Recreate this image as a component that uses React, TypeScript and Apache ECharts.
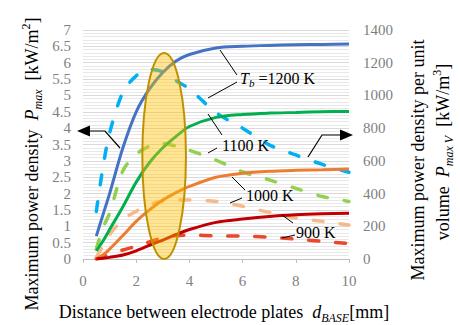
import React, { useEffect, useRef } from "react";
import * as echarts from "echarts";

// Distance between electrode plates d_BASE [mm]
const xs = [0.5, 0.75, 1, 1.5, 2, 2.5, 3, 3.5, 4, 5, 6, 7, 8, 9, 10];

// Maximum power density P_max [kW/m^2] (left axis)
const pmax1200 = [0.7, 1.35, 2.0, 3.4, 4.5, 5.2, 5.7, 6.05, 6.25, 6.45, 6.5, 6.53, 6.55, 6.56, 6.57];
const pmax1100 = [0.25, 0.55, 0.9, 1.6, 2.35, 2.95, 3.4, 3.75, 4.05, 4.33, 4.42, 4.46, 4.48, 4.5, 4.51];
const pmax1000 = [0, 0.12, 0.3, 0.72, 1.15, 1.5, 1.8, 2.03, 2.22, 2.5, 2.62, 2.68, 2.71, 2.73, 2.75];
const pmax900 = [0, 0.02, 0.05, 0.12, 0.25, 0.42, 0.58, 0.75, 0.9, 1.12, 1.22, 1.3, 1.35, 1.38, 1.4];

// Maximum power density per unit volume P_maxV [kW/m^3] (right axis)
const pvol1200 = [290, 560, 770, 1020, 1120, 1160, 1145, 1090, 1040, 895, 800, 698, 636, 578, 530];
const pvol1100 = [60, 190, 280, 540, 640, 690, 705, 690, 665, 605, 532, 484, 432, 382, 352];
const pvol1000 = [10, 80, 150, 240, 292, 330, 355, 360, 360, 352, 322, 285, 251, 230, 208];
const pvol900 = [0, 12, 30, 55, 78, 105, 130, 142, 146, 142, 140, 133, 122, 108, 95];

const leftTicks = { min: 0, max: 7, interval: 0.5 };
const rightTicks = { min: 0, max: 1400, interval: 200 };
const xTicks = { min: 0, max: 10, interval: 2 };

const SERIF = "Liberation Serif";

const pairs = (arr: number[]) => xs.map((x, i) => [x, arr[i]]);

export default function App() {
  const ref = useRef<HTMLDivElement>(null);

  useEffect(() => {
    if (!ref.current) return;
    const chart = echarts.init(ref.current, undefined, { renderer: "svg" });

    const solid = (name: string, data: number[], color: string) => ({
      name,
      type: "line",
      yAxisIndex: 0,
      data: pairs(data),
      smooth: 0.3,
      showSymbol: false,
      symbol: "none",
      z: 3,
      lineStyle: { color, width: 3 },
    });
    const dashed = (name: string, data: number[], color: string) => ({
      name,
      type: "line",
      yAxisIndex: 1,
      data: pairs(data),
      smooth: 0.3,
      showSymbol: false,
      symbol: "none",
      z: 2,
      lineStyle: { color, width: 3.5, type: [10, 17], cap: "round" },
    });

    const tickLabel = { color: "#7f7f7f", fontFamily: SERIF, fontSize: 15 };

    chart.setOption({
      animation: false,
      backgroundColor: "#ffffff",
      textStyle: { fontFamily: SERIF },
      grid: { left: 83, right: 111, top: 30, bottom: 66, containLabel: false },
      xAxis: {
        type: "value",
        ...xTicks,
        axisLine: { show: true, lineStyle: { color: "#bfbfbf", width: 1 } },
        axisTick: { show: true, length: 4, lineStyle: { color: "#bfbfbf" } },
        splitLine: { show: false },
        axisLabel: { ...tickLabel, margin: 14, formatter: (v: number) => String(v) },
      },
      yAxis: [
        {
          type: "value",
          ...leftTicks,
          axisLine: { show: false },
          axisTick: { show: false },
          axisLabel: { ...tickLabel, margin: 12, formatter: (v: number) => String(v) },
          splitLine: { show: true, lineStyle: { color: "#d9d9d9", width: 1 } },
          minorTick: { show: false, splitNumber: 5 },
          minorSplitLine: { show: true, lineStyle: { color: "#e8e8e8", width: 1 } },
        },
        {
          type: "value",
          position: "right",
          ...rightTicks,
          axisLine: { show: false },
          axisTick: { show: false },
          axisLabel: { ...tickLabel, margin: 14, formatter: (v: number) => String(v) },
          splitLine: { show: false },
        },
      ],
      series: [
        dashed("1200 K vol", pvol1200, "#00B0F0"),
        dashed("1100 K vol", pvol1100, "#92D050"),
        dashed("1000 K vol", pvol1000, "#F8B98A"),
        dashed("900 K vol", pvol900, "#E8492A"),
        solid("1200 K", pmax1200, "#4472C4"),
        solid("1100 K", pmax1100, "#00B050"),
        solid("1000 K", pmax1000, "#ED7D31"),
        solid("900 K", pmax900, "#C00000"),
      ],
    });

    // ellipse highlighting d_BASE ≈ 3 mm, placed through the axes
    const c = chart.convertToPixel({ xAxisIndex: 0, yAxisIndex: 0 }, [3.05, 3.15]) as number[];
    const e = chart.convertToPixel({ xAxisIndex: 0, yAxisIndex: 0 }, [3.05 + 0.82, 3.15 + 3.15]) as number[];
    const rx = Math.abs(e[0] - c[0]);
    const ry = Math.abs(c[1] - e[1]);

    const ln = (x1: number, y1: number, x2: number, y2: number) => ({
      type: "line",
      z: 60,
      shape: { x1, y1, x2, y2 },
      style: { stroke: "#000", lineWidth: 1 },
    });

    const labelRich = {
      a: { fontFamily: SERIF, fontSize: 16, color: "#111", lineHeight: 20 },
      i: { fontFamily: SERIF, fontSize: 16, fontStyle: "italic", color: "#111", lineHeight: 20 },
      sub: { fontFamily: SERIF, fontSize: 11, fontStyle: "italic", color: "#111", verticalAlign: "bottom", lineHeight: 10 },
    };
    const titleRich = {
      a: { fontFamily: SERIF, fontSize: 18, color: "#111", lineHeight: 24 },
      i: { fontFamily: SERIF, fontSize: 18, fontStyle: "italic", color: "#111", lineHeight: 24 },
      sub: { fontFamily: SERIF, fontSize: 12, fontStyle: "italic", color: "#111", verticalAlign: "bottom", lineHeight: 12 },
      sup: { fontFamily: SERIF, fontSize: 12, color: "#111", verticalAlign: "top", lineHeight: 8 },
    };

    const lbl = (x: number, y: number, text: string) => ({
      type: "text",
      z: 70,
      x,
      y,
      style: { text, rich: labelRich, align: "left", verticalAlign: "middle", fontFamily: SERIF },
    });

    const title = (x: number, y: number, text: string, rotate: boolean) => ({
      type: "text",
      z: 70,
      x,
      y,
      rotation: rotate ? Math.PI / 2 : 0,
      style: { text, rich: titleRich, align: "center", verticalAlign: "middle", fontFamily: SERIF },
    });

    chart.setOption({
      graphic: [
        {
          type: "ellipse",
          z: 50,
          shape: { cx: c[0], cy: c[1], rx, ry },
          style: { fill: "rgba(255,192,0,0.42)", stroke: "#BF9000", lineWidth: 2 },
        },
        // leader lines
        ln(220, 50, 237, 75),
        ln(208, 98, 237, 82),
        ln(208, 114, 222, 135),
        ln(208, 153, 217, 148),
        ln(232, 177, 245, 190),
        ln(230, 203, 242, 198),
        ln(282, 215, 293, 223),
        ln(282, 238, 295, 235),
        lbl(240, 78, "{i|T}{sub|b}{a| =1200 K}"),
        lbl(222, 145, "{a|1100 K}"),
        lbl(246, 195, "{a|1000 K}"),
        lbl(296, 232, "{a|900 K}"),
        // arrows
        {
          type: "polyline",
          z: 60,
          shape: { points: [[120, 148], [105, 131], [89, 131]] },
          style: { stroke: "#000", lineWidth: 1.2, fill: "none" },
        },
        {
          type: "polygon",
          z: 60,
          shape: { points: [[77, 131], [90, 125.5], [90, 136.5]] },
          style: { fill: "#000" },
        },
        {
          type: "polyline",
          z: 60,
          shape: { points: [[308, 157], [322, 135], [341, 135]] },
          style: { stroke: "#000", lineWidth: 1.2, fill: "none" },
        },
        {
          type: "polygon",
          z: 60,
          shape: { points: [[353, 135], [340, 129.5], [340, 140.5]] },
          style: { fill: "#000" },
        },
        // axis titles
        title(32, 164, "{a|Maximum power density  }{i|P}{sub|max}{a|  [kW/m}{sup|2}{a|]}", true),
        title(418, 160, "{a|Maximum power density per unit}", true),
        title(443, 152, "{a|volume  }{i|P}{sub|max V}{a|  [kW/m}{sup|3}{a|]}", true),
        title(224, 312, "{a|Distance between electrode plates  }{i|d}{sub|BASE}{a|[mm]}", false),
      ],
    });

    return () => chart.dispose();
  }, []);

  return (
    <div
      ref={ref}
      style={{ position: "fixed", left: 0, top: 0, width: 460, height: 325, background: "#fff" }}
    />
  );
}
